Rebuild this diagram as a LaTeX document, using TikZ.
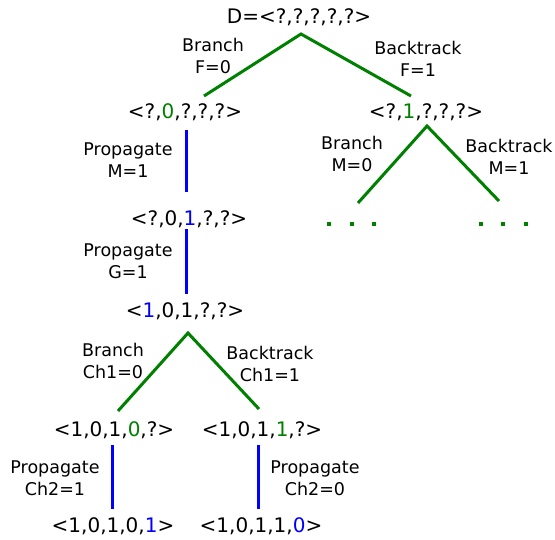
\documentclass[tikz,border=0pt]{standalone}
\usepackage{fontspec}
\setmainfont{DejaVu Sans}
\definecolor{brgreen}{RGB}{0,128,0}
\definecolor{prblue}{RGB}{0,0,255}
\tikzset{
  state/.style={inner sep=0pt, anchor=base, font=\fontsize{20}{24}\selectfont},
  lbl/.style={inner sep=0pt, anchor=base, align=center, font=\fontsize{17.5}{22}\selectfont},
  branchline/.style={brgreen, line width=3pt},
  propline/.style={prblue, line width=3pt},
  moredots/.style={fill=brgreen, minimum size=4pt, inner sep=0pt, draw=none}
}
\newcommand{\gv}[1]{\textcolor{brgreen}{#1}}
\newcommand{\bv}[1]{\textcolor{prblue}{#1}}
\begin{document}
\begin{tikzpicture}[x=1pt, y=-1pt]
\useasboundingbox (0,0) rectangle (555,539);

% states
\node[state] (root) at (299,23) {D=<?,?,?,?,?>};
\node[state] (f0)   at (185,118) {<?,\gv{0},?,?,?>};
\node[state] (f1)   at (426,118) {<?,\gv{1},?,?,?>};
\node[state] (m1)   at (189,225) {<?,0,\bv{1},?,?>};
\node[state] (g1)   at (185,317) {<\bv{1},0,1,?,?>};
\node[state] (c0)   at (114,436) {<1,0,1,\gv{0},?>};
\node[state] (c1)   at (262,436) {<1,0,1,\gv{1},?>};
\node[state] (d1)   at (113,532) {<1,0,1,0,\bv{1}>};
\node[state] (d0)   at (261,532) {<1,0,1,1,\bv{0}>};

% connector end points
\coordinate (rA) at (301,34);  \coordinate (rL) at (204,96);  \coordinate (rR) at (411,96);
\coordinate (fA) at (427,126); \coordinate (fL) at (358,203); \coordinate (fR) at (499,201);
\coordinate (gA) at (188,333); \coordinate (gL) at (118,411); \coordinate (gR) at (259,409);
\coordinate (p1t) at (186,130); \coordinate (p1b) at (186,192);
\coordinate (p2t) at (186,229); \coordinate (p2b) at (186,294);
\coordinate (p3t) at (112,445); \coordinate (p3b) at (112,509);
\coordinate (p4t) at (258,445); \coordinate (p4b) at (258,509);

% branching (green) and propagation (blue)
\draw[branchline] (rL) -- (rA) -- (rR);
\draw[branchline] (fL) -- (fA) -- (fR);
\draw[branchline] (gL) -- (gA) -- (gR);
\draw[propline] (p1t) -- (p1b);
\draw[propline] (p2t) -- (p2b);
\draw[propline] (p3t) -- (p3b);
\draw[propline] (p4t) -- (p4b);

% unexplored subtrees
\foreach \x [count=\i] in {329,352,374,481,503,526}
  \node[moredots] (dot\i) at (\x,224) {};

% labels (anchored at the baseline of the second line)
\node[lbl] (lb1) at (213,73) {Branch\\F=0};
\node[lbl] (lb2) at (418,76) {Backtrack\\F=1};
\node[lbl] (lb3) at (352,171) {Branch\\M=0};
\node[lbl] (lb4) at (509,174) {Backtrack\\M=1};
\node[lbl] (lb5) at (128,177) {Propagate\\M=1};
\node[lbl] (lb6) at (128,278) {Propagate\\G=1};
\node[lbl] (lb7) at (113,378) {Branch\\Ch1=0};
\node[lbl] (lb8) at (270,381) {Backtrack\\Ch1=1};
\node[lbl] (lb9) at (55,495) {Propagate\\Ch2=1};
\node[lbl] (lb10) at (315,495) {Propagate\\Ch2=0};
\end{tikzpicture}
\end{document}
